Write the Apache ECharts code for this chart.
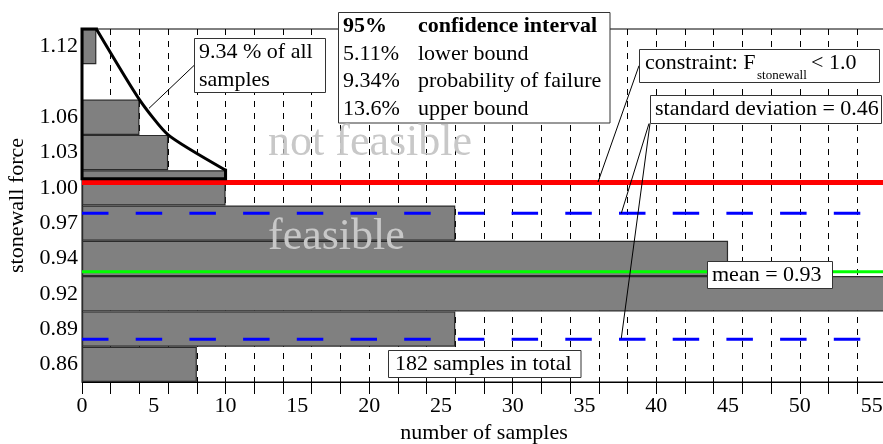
<!DOCTYPE html>
<html><head><meta charset="utf-8">
<script src="https://cdn.jsdelivr.net/npm/echarts@6/dist/echarts.min.js"></script>
<style>html,body{margin:0;padding:0;background:#fff}#c{width:883px;height:444px}</style>
</head><body><div id="c"></div>
<script>
// ---- data ----
const binLabels = ['0.86','0.89','0.92','0.94','0.97','1.00','1.03','1.06','','1.12'];
const sampleCounts = [8, 26, 56, 45, 26, 10, 6, 4, 0, 1];
const forceAxisMin = 0.8435;      // lower edge of first bin
const binWidth = 0.0277;          // bin width in force units
const constraintForce = 1.0;
const meanForce = 0.93;
const stdLowerForce = 0.877;
const stdUpperForce = 0.976;
const tailBoxBottomForce = 1.003;
const tailBinIndices = [9, 7, 6, 5];   // bins above the constraint
const xAxisMax = 56;
const xLabelStep = 5;
const xTickStep = 2;

// ---- derived ----
const forceAxisMax = forceAxisMin + binLabels.length * binWidth;
const binTop = k => forceAxisMin + (k + 1) * binWidth;
const curvePts = tailBinIndices.map(k => [sampleCounts[k], binTop(k)]);
const first = tailBinIndices[0], last = tailBinIndices[tailBinIndices.length - 1];
const boxPts = [
  [sampleCounts[first], binTop(first)],
  [0, binTop(first)],
  [0, tailBoxBottomForce],
  [sampleCounts[last], tailBoxBottomForce],
  [sampleCounts[last], binTop(last)]
];
const hLine = v => [[0, v], [xAxisMax, v]];

const FONT = '"Liberation Serif", "Times New Roman", serif';
const chart = echarts.init(document.getElementById('c'), null, {renderer: 'canvas'});

function txt(text, x, y, opts) {
  return Object.assign({type: 'text', z: 100, style: Object.assign({
    text: text, x: x, y: y, font: '22px ' + FONT, fill: '#000',
    align: 'left', verticalAlign: 'middle'
  }, opts || {})});
}
function box(x, y, w, h) {
  return {type: 'rect', z: 99, shape: {x: x, y: y, width: w, height: h},
    style: {fill: '#fff', stroke: '#333', lineWidth: 1}};
}
function seg(x1, y1, x2, y2) {
  return {type: 'line', z: 98, shape: {x1: x1, y1: y1, x2: x2, y2: y2},
    style: {stroke: '#000', lineWidth: 1}};
}

const option = {
  animation: false,
  backgroundColor: '#fff',
  textStyle: {fontFamily: FONT},
  grid: {left: 82, top: 29, right: -3, bottom: 62, show: true, containLabel: false,
         outerBoundsMode: 'none',
         borderColor: '#000', borderWidth: 1, backgroundColor: '#fff'},
  xAxis: [
    {type: 'value', min: 0, max: xAxisMax, interval: xLabelStep, position: 'bottom',
     name: 'number of samples', nameLocation: 'middle', nameGap: 40,
     nameTextStyle: {fontSize: 22, color: '#000', fontFamily: FONT},
     axisLine: {show: true, lineStyle: {color: '#000', width: 1}},
     axisTick: {show: false}, splitLine: {show: false},
     axisLabel: {fontSize: 22, color: '#000', margin: 13, showMaxLabel: false, fontFamily: FONT}},
    {type: 'value', min: 0, max: xAxisMax, interval: xTickStep, position: 'bottom',
     axisLine: {show: false},
     axisTick: {show: true, inside: false, length: 12, lineStyle: {color: '#000', width: 1}},
     axisLabel: {show: false},
     splitLine: {show: true, lineStyle: {color: '#000', width: 1, type: [6, 6]}}}
  ],
  yAxis: [
    {type: 'category', data: binLabels, boundaryGap: true, position: 'left',
     name: 'stonewall force', nameLocation: 'middle', nameGap: 52,
     nameTextStyle: {fontSize: 22, color: '#000', fontFamily: FONT},
     axisLine: {show: true, lineStyle: {color: '#000', width: 1}},
     axisTick: {show: false},
     axisLabel: {fontSize: 22, color: '#000', margin: 4, fontFamily: FONT}},
    {type: 'value', min: forceAxisMin, max: forceAxisMax, position: 'right', show: false}
  ],
  series: [
    {type: 'bar', xAxisIndex: 0, yAxisIndex: 0, data: sampleCounts, barCategoryGap: '0%',
     silent: true, z: 2,
     itemStyle: {color: '#808080', borderColor: '#2b2b2b', borderWidth: 1.2}},
    {type: 'line', xAxisIndex: 0, yAxisIndex: 1, data: hLine(constraintForce), symbol: 'none',
     z: 4, silent: true, lineStyle: {color: '#ff0000', width: 5}},
    {type: 'line', xAxisIndex: 0, yAxisIndex: 1, data: hLine(meanForce), symbol: 'none',
     z: 4, silent: true, lineStyle: {color: '#00ff00', width: 3}},
    {type: 'line', xAxisIndex: 0, yAxisIndex: 1, data: hLine(stdUpperForce), symbol: 'none',
     z: 4, silent: true, lineStyle: {color: '#0000ff', width: 3, type: [26.5, 27.2]}},
    {type: 'line', xAxisIndex: 0, yAxisIndex: 1, data: hLine(stdLowerForce), symbol: 'none',
     z: 4, silent: true, lineStyle: {color: '#0000ff', width: 3, type: [26.5, 27.2]}},
    {type: 'line', xAxisIndex: 0, yAxisIndex: 1, data: curvePts, symbol: 'none', smooth: 0.2,
     z: 5, silent: true, clip: false, lineStyle: {color: '#000', width: 3}},
    {type: 'line', xAxisIndex: 0, yAxisIndex: 1, data: boxPts, symbol: 'none',
     z: 5, silent: true, clip: false, lineStyle: {color: '#000', width: 3, join: 'miter', cap: 'square'}}
  ],
  graphic: [
    txt('not feasible', 268, 143, {font: '44px ' + FONT, fill: '#c8c8c8'}),
    txt('feasible', 268, 237, {font: '44px ' + FONT, fill: '#c8c8c8'}),
    // 9.34 % box
    seg(194.5, 65, 149, 108.3),
    box(194.5, 38.5, 131, 54),
    txt('9.34 % of all', 199, 52.5),
    txt('samples', 199, 80),
    // confidence interval table
    box(338.5, 12.5, 271.5, 110.5),
    txt('95%', 343, 26.5, {font: 'bold 22px ' + FONT}),
    txt('confidence interval', 418, 26.5, {font: 'bold 22px ' + FONT}),
    txt('5.11%', 343, 54), txt('lower bound', 418, 54),
    txt('9.34%', 343, 81.5), txt('probability of failure', 418, 81.5),
    txt('13.6%', 343, 109), txt('upper bound', 418, 109),
    // constraint
    seg(639, 65.7, 598, 182),
    box(639.5, 49.5, 240, 33),
    txt('constraint: F', 645, 63.5),
    txt('stonewall', 757, 76, {font: '13px ' + FONT}),
    txt('< 1.0', 811, 63.5),
    // std dev
    seg(649, 123.5, 621.3, 213.3),
    seg(650, 123.5, 621.3, 338.3),
    box(650.5, 95.5, 231, 28),
    txt('standard deviation = 0.46', 655, 109.5),
    // mean
    box(707.5, 261.5, 125, 27),
    txt('mean = 0.93', 712, 275),
    // total
    box(388.5, 350.5, 192.5, 27),
    txt('182 samples in total', 395, 364)
  ]
};
chart.setOption(option);
</script>
</body></html>
